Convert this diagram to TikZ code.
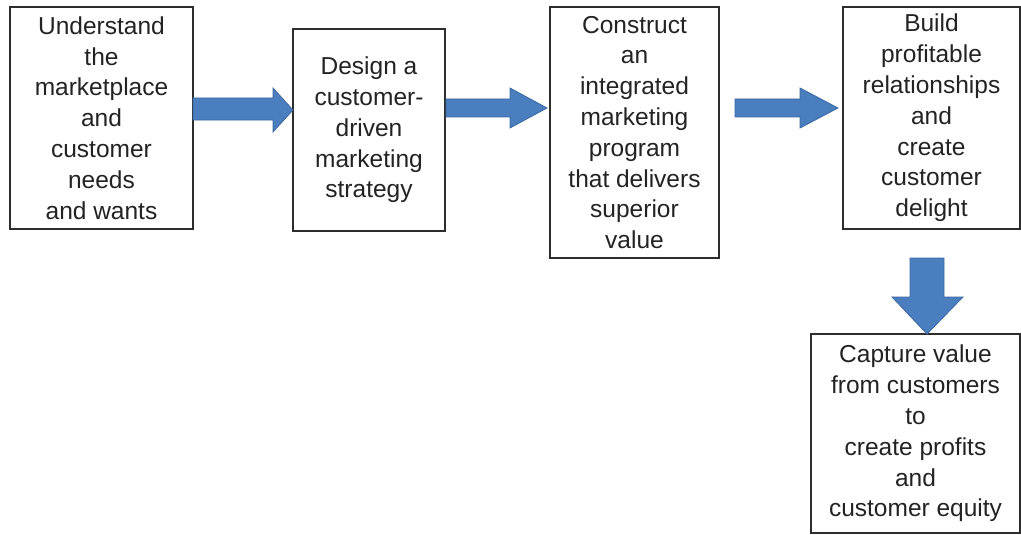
\documentclass[tikz,border=0pt]{standalone}
\usepackage{fontspec}
\setmainfont{Liberation Sans}
\definecolor{boxline}{RGB}{45,45,45}
\definecolor{txt}{RGB}{35,35,35}
\definecolor{arrfill}{RGB}{74,126,190}
\definecolor{arrline}{RGB}{58,104,162}
\begin{document}
\begin{tikzpicture}[x=1pt,y=-1pt,
  stagebox/.style={draw=boxline, line width=1.7pt, fill=white, inner sep=0pt, align=center, text=txt,
    font=\fontsize{24.5}{30.8}\selectfont},
  blockarrow/.style={fill=arrfill, draw=arrline, line width=0.8pt, line join=miter}]
\useasboundingbox (0,0) rectangle (1021,535);
\node[stagebox, minimum width=183pt, minimum height=222pt] (b1) at (101.5,118)
  {Understand\\the\\marketplace\\and\\customer\\needs\\and wants};
\node[stagebox, minimum width=152pt, minimum height=202pt] (b2) at (369,130)
  {Design a\\customer-\\driven\\marketing\\strategy};
\node[stagebox, minimum width=169pt, minimum height=251pt] (b3) at (634.5,132.5)
  {Construct\\an\\integrated\\marketing\\program\\that delivers\\superior\\value};
\node[stagebox, minimum width=177pt, minimum height=222pt] (b4) at (931.5,118)
  {Build\\profitable\\relationships\\and\\create\\customer\\delight};
\node[stagebox, minimum width=209pt, minimum height=199pt] (b5) at (915.5,433.5)
  {Capture value\\from customers\\to\\create profits\\and\\customer equity};
% block arrows
\path[blockarrow] (193,98) -- (273,98) -- (273,88) -- (293,110) -- (273,132) -- (273,120) -- (193,120) -- cycle;
\path[blockarrow] (446,99) -- (510,99) -- (510,88) -- (547,108) -- (510,128) -- (510,117) -- (446,117) -- cycle;
\path[blockarrow] (735,99) -- (800,99) -- (800,88) -- (838,108) -- (800,128) -- (800,117) -- (735,117) -- cycle;
\path[blockarrow] (910,258) -- (944,258) -- (944,297) -- (963,297) -- (927,334) -- (892,297) -- (910,297) -- cycle;
\end{tikzpicture}
\end{document}
